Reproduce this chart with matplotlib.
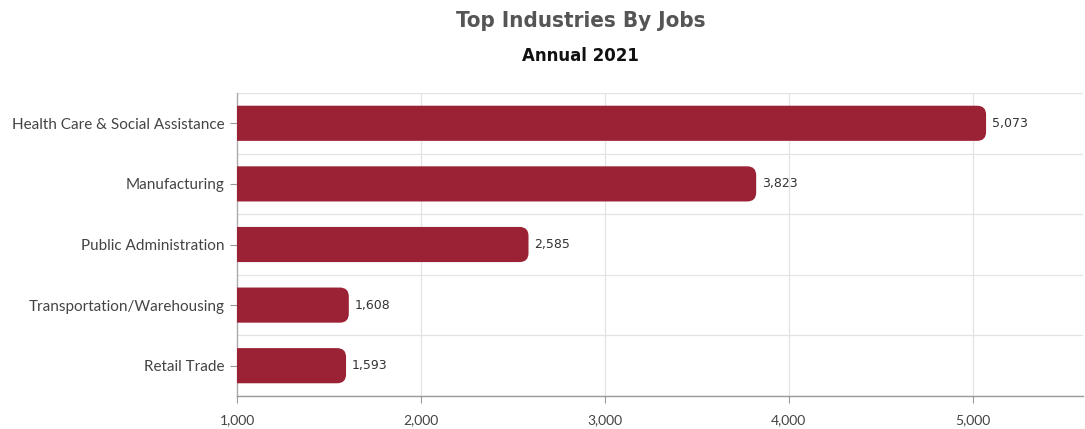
import matplotlib
matplotlib.use("Agg")
import matplotlib.pyplot as plt
from matplotlib.patches import FancyBboxPatch
from matplotlib.ticker import FuncFormatter

categories = ["Health Care & Social Assistance", "Manufacturing", "Public Administration",
              "Transportation/Warehousing", "Retail Trade"]
jobs = [5073, 3823, 2585, 1608, 1593]
x_ticks = [1000, 2000, 3000, 4000, 5000]

W, H = 1085, 429
fig = plt.figure(figsize=(W / 100, H / 100), dpi=100)
ax_l, ax_r, ax_b, ax_t = 237, 1083, 396, 93
ax = fig.add_axes([ax_l / W, 1 - ax_b / H, (ax_r - ax_l) / W, (ax_b - ax_t) / H])

xmin, xmax = 1000, 5600
n = len(categories)
ax.set_xlim(xmin, xmax)
ax.set_ylim(n - 0.5, -0.5)

bar_color = "#9B2234"
bar_h = 0.58
px_per_x = (ax_r - ax_l) / (xmax - xmin)
px_per_y = (ax_b - ax_t) / n
radius_px = 9
r_x = radius_px / px_per_x
aspect = px_per_x / px_per_y

for i, v in enumerate(jobs):
    start = xmin - 2 * r_x
    patch = FancyBboxPatch((start, i - bar_h / 2), v - start, bar_h,
                           boxstyle=f"round,pad=0,rounding_size={r_x}",
                           mutation_aspect=aspect,
                           facecolor=bar_color, edgecolor="none", zorder=3, clip_on=True)
    ax.add_patch(patch)
    ax.text(v + 30, i, f"{v:,}", va="center", ha="left", fontsize=9,
            color="#333333", family="DejaVu Sans", zorder=4)

ax.set_yticks(range(n))
ax.set_yticklabels(categories, fontsize=11, color="#444444", family="Lato")
ax.set_xticks(x_ticks)
ax.xaxis.set_major_formatter(FuncFormatter(lambda x, p: f"{int(x):,}"))
for lbl in ax.get_xticklabels():
    lbl.set_fontsize(10)
    lbl.set_color("#444444")
    lbl.set_family("Lato")

ax.tick_params(axis="y", length=5, width=0.8, color="#999999", pad=4)
ax.tick_params(axis="x", length=5, width=0.8, color="#999999", pad=8)

# grid
for x in x_ticks[1:]:
    ax.axvline(x, color="#e3e3e3", lw=0.9, zorder=0)
for b in [k + 0.5 for k in range(-1, n)]:
    ax.axhline(b, color="#e3e3e3", lw=0.9, zorder=0)

for s in ["top", "right"]:
    ax.spines[s].set_visible(False)
ax.spines["left"].set_color("#aaaaaa")
ax.spines["bottom"].set_color("#999999")
ax.spines["left"].set_linewidth(1.0)
ax.spines["bottom"].set_linewidth(1.0)

fig.text(581 / W, 1 - 21 / H, "Top Industries By Jobs", ha="center", va="center",
         fontsize=16, color="#555555", fontweight="bold", fontstretch="condensed",
         family="DejaVu Sans")
fig.text(580 / W, 1 - 56 / H, "Annual 2021", ha="center", va="center",
         fontsize=12, color="#111111", fontweight="bold", family="DejaVu Sans")

fig.savefig("out.png", dpi=100)
